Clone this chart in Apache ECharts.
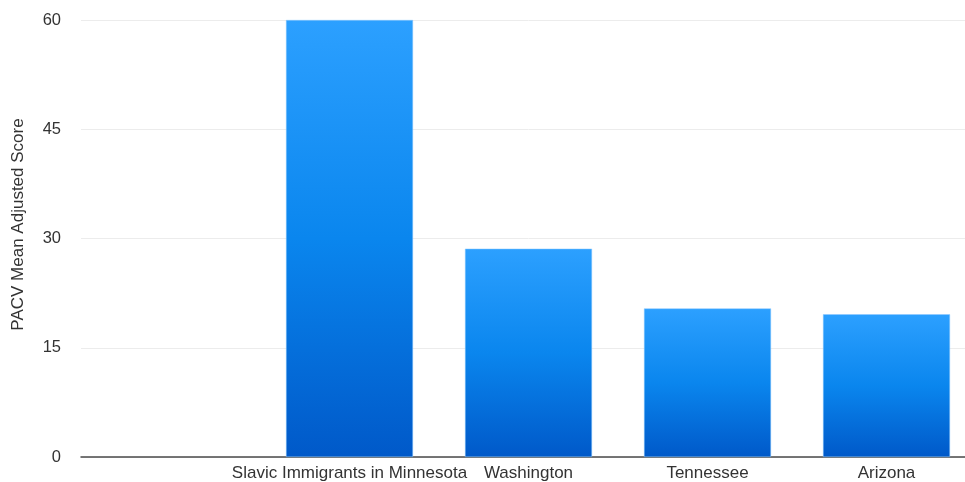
<!DOCTYPE html>
<html lang="en">
<head>
    <meta charset="UTF-8">
    <title>PACV Mean Adjusted Score</title>
</head>
<style>
    html, body { margin: 0; padding: 0; background: #fff; overflow: hidden; }
    /* the original is cut off at the right edge, so the chart is a bit wider than the window */
    #bar { width: 976px; height: 482px; }
</style>
<body>
<div id="bar"></div>
</body>
<script src="https://cdn.jsdelivr.net/npm/echarts@6/dist/echarts.min.js"></script>
<script>
    // first slot is an empty category in the original chart
    var categories = ['', 'Slavic Immigrants in Minnesota', 'Washington', 'Tennessee', 'Arizona'];
    var scores = [null, 60, 28.6, 20.4, 19.6];
    var yTicks = [0, 15, 30, 45, 60];

    var myChart = echarts.init(document.getElementById('bar'));
    var option = {
        animation: false,
        grid: {
            top: 20,
            left: 81,
            right: 0,
            bottom: 24
        },
        xAxis: {
            type: 'category',
            data: categories,
            axisTick: { show: false },
            axisLine: {
                lineStyle: { color: '#4a4a4a', width: 1.5 }
            },
            axisLabel: {
                color: '#333',
                fontSize: 17,
                fontFamily: 'Liberation Sans',
                margin: 8,
                interval: 0
            }
        },
        yAxis: {
            type: 'value',
            min: yTicks[0],
            max: yTicks[yTicks.length - 1],
            interval: 15,
            name: 'PACV Mean Adjusted Score',
            nameLocation: 'middle',
            nameGap: 54,
            nameTextStyle: {
                color: '#333',
                fontSize: 17,
                fontFamily: 'Liberation Sans',
                padding: [0, 0, 0, 28]
            },
            axisLine: { show: false },
            axisTick: { show: false },
            axisLabel: {
                color: '#333',
                fontSize: 16.5,
                fontFamily: 'Liberation Sans',
                margin: 20
            },
            splitLine: {
                lineStyle: { color: '#ececec', width: 1 }
            }
        },
        series: [{
            type: 'bar',
            data: scores,
            barWidth: 127,
            itemStyle: {
                color: new echarts.graphic.LinearGradient(0, 0, 0, 1, [
                    { offset: 0, color: '#2ca0ff' },
                    { offset: 0.5, color: '#0a86ee' },
                    { offset: 1, color: '#0059c9' }
                ]),
                borderColor: '#8cc8ff',
                borderWidth: 0.5
            }
        }]
    };
    myChart.setOption(option);
</script>
</html>
